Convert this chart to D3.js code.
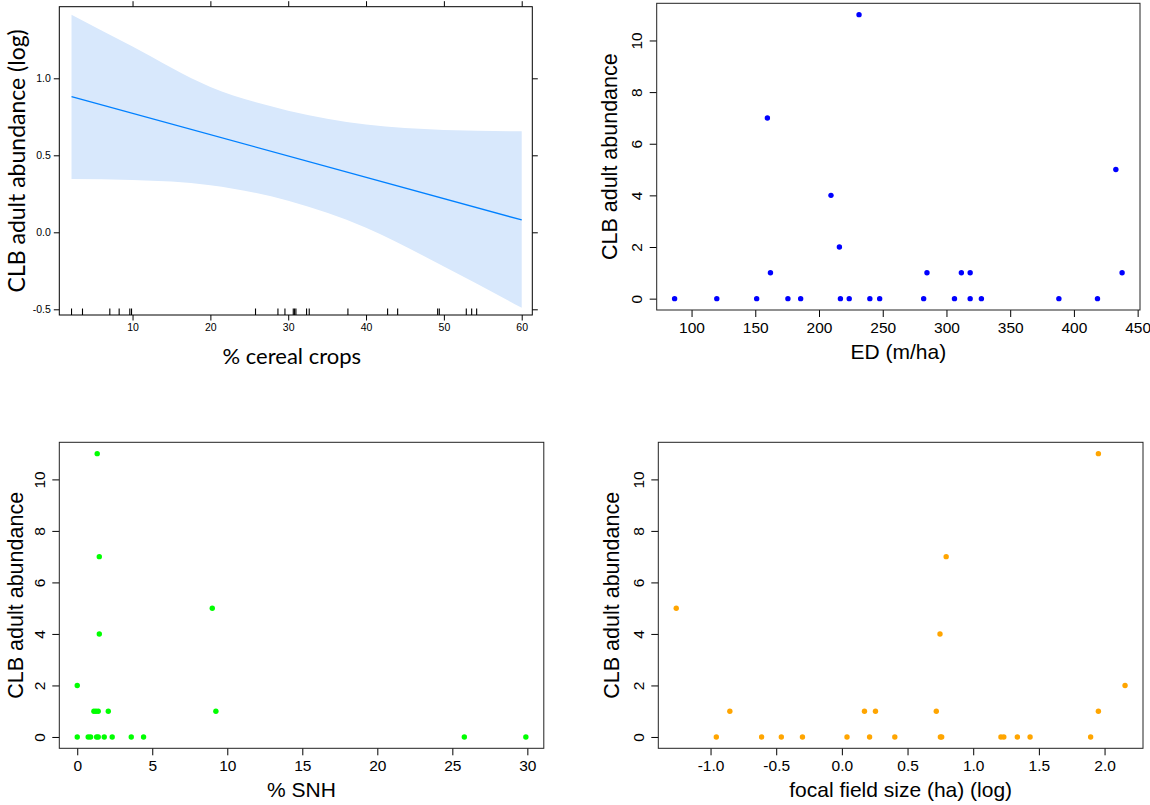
<!DOCTYPE html>
<html>
<head>
<meta charset="utf-8">
<script src="https://cdn.jsdelivr.net/npm/d3@7"></script>
<style>
  html, body { margin: 0; padding: 0; background: #fff; }
  svg { display: block; }
  .rp text { font-family: "Liberation Sans", Arial, sans-serif; }
  .lat text { font-family: "Liberation Sans", Arial, sans-serif; }
  .lat text.calib { font-family: Lato, "Open Sans", sans-serif; }
</style>
</head>
<body>
<script>
// CLB abundance vs landscape variables -- 4 panels

// top left: effect of % cereal crops (log abundance)
var cerealRug = [2.16, 3.57, 7.08, 8.28, 9.65, 9.87, 25.8, 28.68, 29.58, 30.65, 30.82, 30.99,
                 32.36, 32.7, 37.67, 42.77, 44.06, 49.2, 49.41, 52.88, 53.57, 54.21];
var cerealFitX = [2.16, 60];
var cerealFitY = [0.881, 0.08];
var bandX = [2.16, 10, 20, 30, 40, 50, 60];
var bandUpper = [1.413, 1.206, 0.944, 0.79, 0.70, 0.665, 0.656];
var bandLower = [0.346, 0.34, 0.306, 0.205, 0.03, -0.222, -0.49];
var cerealTicksX = [10, 20, 30, 40, 50, 60];
var cerealTicksY = [-0.5, 0, 0.5, 1.0];

// shared y for the scatter panels
var abundanceTicks = [0, 2, 4, 6, 8, 10];

// top right: edge density
var edX = [86.7, 119.8, 151.1, 175.6, 185.6, 216.8, 223.7, 239.9, 247.6, 282.1, 306.3, 318.6, 327.4, 388.2, 418.5,
           161.9, 284.7, 311.7, 318.6, 437.8,
           216.0, 209.4, 432.9, 159.5, 231.4];
var edY = [0, 0, 0, 0, 0, 0, 0, 0, 0, 0, 0, 0, 0, 0, 0,
           1, 1, 1, 1, 1,
           2, 4, 5, 7, 11];
var edTicks = [100, 150, 200, 250, 300, 350, 400, 450];

// bottom left: % semi-natural habitat
var snhX = [0, 0.73, 0.89, 1.29, 1.4, 1.8, 2.33, 3.6, 4.42, 25.8, 29.9,
            1.11, 1.25, 1.4, 2.07, 9.24,
            0, 1.47, 9.0, 1.47, 1.33];
var snhY = [0, 0, 0, 0, 0, 0, 0, 0, 0, 0, 0,
            1, 1, 1, 1, 1,
            2, 4, 5, 7, 11];
var snhTicks = [0, 5, 10, 15, 20, 25, 30];

// bottom right: focal field size (log)
var fieldX = [-0.956, -0.611, -0.461, -0.30, 0.039, 0.211, 0.403, 0.75, 0.76, 1.211, 1.233, 1.336, 1.433, 1.894,
              -0.853, 0.172, 0.256, 0.719, 1.953,
              2.156, 0.747, -1.261, 0.794, 1.953];
var fieldY = [0, 0, 0, 0, 0, 0, 0, 0, 0, 0, 0, 0, 0, 0,
              1, 1, 1, 1, 1,
              2, 4, 5, 7, 11];
var fieldTicks = [-1.0, -0.5, 0.0, 0.5, 1.0, 1.5, 2.0];

var W = 1150, H = 805;

var svg = d3.select("body").append("svg")
  .attr("width", W).attr("height", H);
svg.append("rect").attr("width", W).attr("height", H).attr("fill", "#fff");

// base R style range: extend data range by 4% each side
function padded(vals) {
  var e = d3.extent(vals), p = (e[1] - e[0]) * 0.04;
  return [e[0] - p, e[1] + p];
}

///////////////////////////////////////////////////////////////////////////////
// Lattice effect panel

(function () {
  var box = {l: 59.3, r: 532.3, t: 6.7, b: 315};
  var x = d3.scaleLinear().domain([0.59, 61.36]).range([box.l, box.r]);
  var y = d3.scaleLinear().domain([-0.537, 1.465]).range([box.b, box.t]);
  var g = svg.append("g").attr("class", "lat");

  var area = d3.area()
    .x(function (d, i) { return x(bandX[i]); })
    .y0(function (d, i) { return y(bandLower[i]); })
    .y1(function (d, i) { return y(bandUpper[i]); })
    .curve(d3.curveMonotoneX);
  g.append("path").datum(bandX).attr("d", area).attr("fill", "#d8e8fc");

  var line = d3.line()
    .x(function (d, i) { return x(cerealFitX[i]); })
    .y(function (d, i) { return y(cerealFitY[i]); });
  g.append("path").datum(cerealFitX).attr("d", line)
    .attr("fill", "none").attr("stroke", "#0080ff").attr("stroke-width", 1.3);

  // rug
  g.selectAll("line.rug").data(cerealRug).enter().append("line")
    .attr("x1", function (d) { return x(d); }).attr("x2", function (d) { return x(d); })
    .attr("y1", box.b).attr("y2", box.b - 6.5)
    .attr("stroke", "#000").attr("stroke-width", 1.1);

  var fmt = function (d) { return d.toFixed(1); };
  var sides = [
    [d3.axisBottom(x).tickValues(cerealTicksX), "translate(0," + box.b + ")", true],
    [d3.axisTop(x).tickValues(cerealTicksX), "translate(0," + box.t + ")", false],
    [d3.axisLeft(y).tickValues(cerealTicksY).tickFormat(fmt), "translate(" + box.l + ",0)", true],
    [d3.axisRight(y).tickValues(cerealTicksY), "translate(" + box.r + ",0)", false]
  ];
  sides.forEach(function (s) {
    var a = g.append("g").attr("transform", s[1])
      .call(s[0].tickSize(5.5).tickPadding(3));
    a.select(".domain").remove();
    a.selectAll("line").attr("stroke", "#000");
    a.selectAll("text").attr("font-size", 10.5).attr("fill", "#000");
    if (!s[2]) a.selectAll("text").remove();
  });

  g.append("rect")
    .attr("x", box.l).attr("y", box.t)
    .attr("width", box.r - box.l).attr("height", box.b - box.t)
    .attr("fill", "none").attr("stroke", "#000").attr("stroke-width", 1);

  g.append("text").attr("class", "calib")
    .attr("transform", "translate(25," + ((box.t + box.b) / 2) + ") rotate(-90)")
    .attr("text-anchor", "middle").attr("font-size", 23)
    .text("CLB adult abundance (log)");
  g.append("text").attr("class", "calib")
    .attr("x", (box.l + box.r) / 2 - 4).attr("y", 364)
    .attr("text-anchor", "middle").attr("font-size", 22)
    .text("% cereal crops");
})();

///////////////////////////////////////////////////////////////////////////////
// Base R scatter panels

function rPanel(box, xs, ys, color, xTicks, xFmt, xLabel, yLabelX) {
  var x = d3.scaleLinear().domain(padded(xs)).range([box.l, box.r]);
  var y = d3.scaleLinear().domain(padded(ys)).range([box.b, box.t]);
  var g = svg.append("g").attr("class", "rp");

  g.selectAll("circle").data(xs).enter().append("circle")
    .attr("cx", function (d) { return x(d); })
    .attr("cy", function (d, i) { return y(ys[i]); })
    .attr("r", 2.7)
    .attr("fill", color);

  var ax = g.append("g").attr("transform", "translate(0," + box.b + ")")
    .call(d3.axisBottom(x).tickValues(xTicks).tickFormat(xFmt).tickSize(7).tickPadding(5));
  ax.select(".domain").remove();
  ax.selectAll("line").attr("stroke", "#000");
  ax.selectAll("text").attr("font-size", 15.5).attr("fill", "#000");

  var ay = g.append("g").attr("transform", "translate(" + box.l + ",0)")
    .call(d3.axisLeft(y).tickValues(abundanceTicks).tickSize(7));
  ay.select(".domain").remove();
  ay.selectAll("line").attr("stroke", "#000");
  ay.selectAll("text")
    .attr("font-size", 15.5).attr("fill", "#000")
    .attr("x", null).attr("dy", "0.35em")
    .attr("text-anchor", "middle")
    .attr("transform", "translate(-20,0) rotate(-90)");

  g.append("rect")
    .attr("x", box.l).attr("y", box.t)
    .attr("width", box.r - box.l).attr("height", box.b - box.t)
    .attr("fill", "none").attr("stroke", "#222").attr("stroke-width", 1);

  g.append("text")
    .attr("transform", "translate(" + yLabelX + "," + ((box.t + box.b) / 2) + ") rotate(-90)")
    .attr("text-anchor", "middle").attr("font-size", 21.5).attr("dy", "0.35em")
    .text("CLB adult abundance");
  g.append("text")
    .attr("x", (box.l + box.r) / 2).attr("y", box.b + 49)
    .attr("text-anchor", "middle").attr("font-size", 21)
    .text(xLabel);
}

var intFmt = function (d) { return String(d); };
var decFmt = function (d) { return d.toFixed(1); };

rPanel({l: 656.7, r: 1140, t: 3.3, b: 310}, edX, edY, "#0000ff", edTicks, intFmt, "ED (m/ha)", 609);
rPanel({l: 59.3, r: 543.8, t: 442.3, b: 748.3}, snhX, snhY, "#00ff00", snhTicks, intFmt, "% SNH", 15);
rPanel({l: 658.3, r: 1143, t: 442.3, b: 748.3}, fieldX, fieldY, "#ffa500", fieldTicks, decFmt, "focal field size (ha) (log)", 611);
</script>
</body>
</html>
